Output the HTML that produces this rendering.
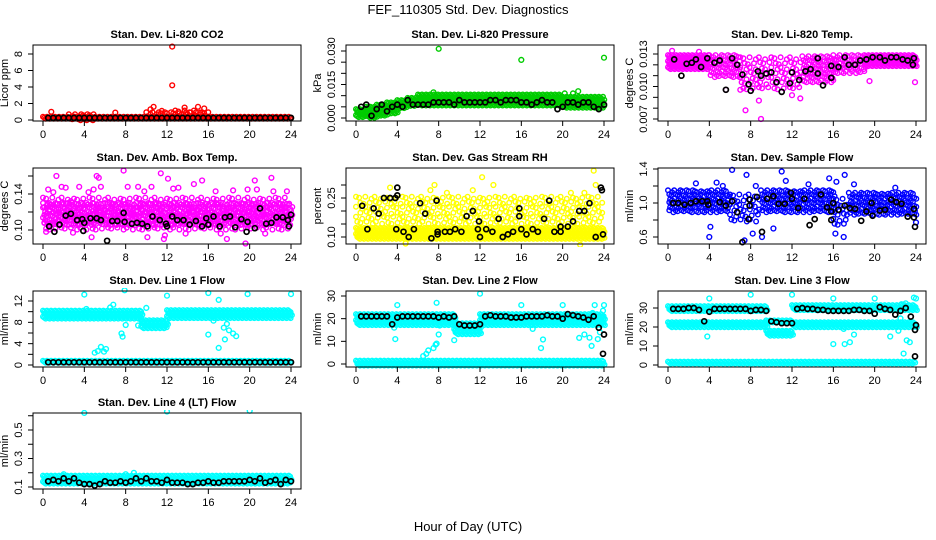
<!DOCTYPE html>
<html><head><meta charset="utf-8"><style>
html,body{margin:0;padding:0;background:#fff;width:936px;height:540px;overflow:hidden}
svg{display:block;font-family:"Liberation Sans",sans-serif}
</style></head><body>
<svg id="chart" width="936" height="540" viewBox="0 0 936 540">
<text x="468" y="14" text-anchor="middle" font-size="13">FEF_110305  Std. Dev. Diagnostics</text>
<text x="468" y="531" text-anchor="middle" font-size="13">Hour of Day (UTC)</text>
</svg>
<script>
const xTicks=[0,4,8,12,16,20,24];
const T48=[0.5,1,1.5,2,2.5,3,3.5,4,4.5,5,5.5,6,6.5,7,7.5,8,8.5,9,9.5,10,10.5,11,11.5,12,12.5,13,13.5,14,14.5,15,15.5,16,16.5,17,17.5,18,18.5,19,19.5,20,20.5,21,21.5,22,22.5,23,23.5,24];

const titles=["Stan. Dev. Li-820 CO2","Stan. Dev. Li-820 Pressure","Stan. Dev. Li-820 Temp.","Stan. Dev. Amb. Box Temp.","Stan. Dev. Gas Stream RH","Stan. Dev. Sample Flow","Stan. Dev. Line 1 Flow","Stan. Dev. Line 2 Flow","Stan. Dev. Line 3 Flow","Stan. Dev. Line 4 (LT) Flow"];
const units=["Licor ppm","kPa","degrees C","degrees C","percent","ml/min","ml/min","ml/min","ml/min","ml/min"];
const colors=["#ff0000","#00cc00","#ff00ff","#ff00ff","#ffff00","#0000ff","#00ffff","#00ffff","#00ffff","#00ffff"];

const yTickVals=[[0,2,4,6,8],[0,0.005,0.01,0.015,0.02,0.025,0.03],[0.007,0.008,0.009,0.010,0.011,0.012,0.013],[0.10,0.12,0.14,0.16],[0.10,0.15,0.20,0.25,0.30],[0.6,0.8,1.0,1.2,1.4],[0,2,4,6,8,10,12],[0,10,20,30],[0,10,20,30],[0.1,0.2,0.3,0.4,0.5,0.6]];
const yTickLabels=[["0","2","4","6","8"],["0.000","","","0.015","","","0.030"],["0.007","","","0.010","","","0.013"],["0.10","","0.14",""],["0.10","","","0.25",""],["0.6","","1.0","","1.4"],["0","","4","","8","","12"],["0","10","20","30"],["0","10","20","30"],["0.1","","0.3","","0.5",""]];
const yRefVals=[[0,8],[0,0.03],[0.007,0.013],[0.10,0.14],[0.10,0.25],[0.6,1.4],[0,12],[0,30],[0,30],[0.1,0.5]];

// bands: [tStart,tEnd,low,high,density(0 dense,1 medium,2 sparse)]
const bands=[
 [[0,24,0.05,0.4,0],[2.5,5,0.05,0.7,1],[10,16,0.05,0.95,1],[12.8,15.8,0.3,1.15,2]],
 [[0,1,0,0.004,0],[1,2,0,0.005,0],[2,3,0.001,0.006,0],[3,4,0.002,0.007,0],[4,5,0.004,0.008,0],[5,6,0.005,0.009,0],[6,20,0.006,0.0105,0],[20,24,0.005,0.0095,0]],
 [[0,4,0.0116,0.0129,0],[4,7,0.0108,0.0129,1],[7,10,0.0095,0.0127,2],[10,13,0.0097,0.0127,2],[13,16,0.0103,0.0128,1],[16,19,0.0112,0.0129,1],[19,24,0.0118,0.0129,0]],
 [[0,24,0.098,0.136,2],[0,24,0.104,0.130,1]],
 [[0,24,0.09,0.135,0],[0,24,0.14,0.255,2]],
 [[0,6,0.9,1.15,1],[6,9,0.75,1.1,2],[9,16,0.88,1.15,1],[16,17.5,0.75,1.05,2],[17.5,24,0.88,1.12,1]],
 [[0,9.5,8.7,10.2,0],[9.5,12,7.2,8.4,0],[12,24,8.7,10.3,0],[0,24,0.3,0.8,0]],
 [[0,9.5,17.5,22,0],[9.5,12,13.5,18,0],[12,24,17.5,22,0],[0,24,0,1.5,0]],
 [[0,9.5,28.5,31,0],[12,24,29,31.5,0],[0,9.5,20.5,22.5,0],[12,24,19.5,22.5,0],[9.5,12,22,23.5,0],[9.5,12,16,18,0],[0,24,0.3,1.8,0]],
 [[0,24,0.12,0.18,0]]
];

const outliers=[
 [[12.5,8.9],[12.5,4.2],[10.7,1.6],[11.5,1.1],[13.7,1.5],[15,1.6],[15.6,1.4],[0.8,1.0],[7,0.9],[10.4,1.3]],
 [[8,0.031],[16,0.026],[24,0.027],[21.5,0.012],[20.2,0.011],[21,0.011],[7.5,0.0115]],
 [[0.4,0.0133],[7.5,0.0078],[9,0.0070],[8.8,0.0087],[19.5,0.0105],[23.9,0.0104],[12.8,0.0089],[12,0.0092],[5.6,0.0097],[7,0.0097],[3,0.0132]],
 [[0.5,0.145],[1,0.142],[1.3,0.16],[1.8,0.148],[2.2,0.147],[2.7,0.132],[3.5,0.148],[4.4,0.142],[4.9,0.145],[5.2,0.16],[5.4,0.158],[5.6,0.148],[7.8,0.166],[8.2,0.148],[9.2,0.148],[9.8,0.143],[10.1,0.092],[10.5,0.148],[11.4,0.163],[11.7,0.090],[11.8,0.094],[12.1,0.157],[12.6,0.146],[13.1,0.147],[13.8,0.096],[14.6,0.151],[15.4,0.155],[16.7,0.143],[17.2,0.096],[17.8,0.090],[18.4,0.144],[19.6,0.085],[19.8,0.145],[20.5,0.155],[20.7,0.145],[21.5,0.096],[22.1,0.158],[22.3,0.143],[23.6,0.143],[2.9,0.097],[0.3,0.098],[4.7,0.092]],
 [[3.3,0.29],[7.2,0.28],[7.6,0.30],[8.8,0.27],[11.3,0.28],[12.2,0.33],[13.3,0.30],[20.8,0.27],[23,0.355],[23.2,0.30],[22.1,0.27],[21.7,0.07],[4.8,0.075]],
 [[6.2,1.39],[7.6,1.33],[11,1.37],[15.6,1.29],[17.1,1.33],[4,0.6],[9.1,0.6],[7.4,0.56],[16.2,0.64],[17,0.6],[4.1,0.72],[8.2,0.64],[10.2,0.7],[2.7,1.23],[4.7,1.24],[5.3,1.2],[8.5,1.2],[11.4,1.26],[16.3,1.25],[18,1.22],[22,1.18],[24,0.77],[13.6,1.22]],
 [[4,13.2],[4.2,10.5],[6.5,10.8],[6.8,11.3],[7.9,14],[8,7.5],[9.2,7.4],[10,10.7],[12,13],[16,13.5],[16,5.7],[16.5,8.3],[17,12.2],[17,3.2],[17.5,7],[17.6,4.8],[17.8,7.7],[18,6.5],[18.4,5.9],[18.7,5.4],[19.8,13.3],[24,13.3],[5,2.3],[5.3,2.6],[5.6,3.4],[5.9,2.5],[7.6,5.9],[7.7,5.3],[6.1,3.0]],
 [[4,26],[3.8,11],[3.7,16],[7.8,27],[8,13],[9.5,10.5],[12,31],[8.1,17],[7.5,7],[7.7,8.5],[7.8,9],[7,6],[6.8,4.5],[6.5,3.5],[6.6,1],[16,26],[17.1,15.5],[18.1,10.8],[17.9,7],[20,26],[22.6,11.6],[22.1,13],[21.6,11.5],[23.1,26],[22.8,8],[24,26],[23.6,14],[23.4,11],[23.9,23.5],[22.9,22.5]],
 [[4,35],[3.8,15],[8,37],[12,37],[16,35],[16,11],[17.1,11],[17.6,12],[18,16],[17,19],[20,35],[21.5,15],[22.3,18],[22.6,32],[22.8,6],[23.1,13],[23.4,12],[23.8,35.5],[24,35],[23,32.5],[22.5,24.5]],
 [[4,0.62],[12,0.63],[20,0.635],[8,0.19],[8.8,0.2],[2,0.19]]
];

const blackCO2=T48.map(()=>0.25);
const blackPressure=[0.005,0.006,0.001,0.004,0.006,0.003,0.005,0.006,0.005,0.008,0.006,0.006,0.006,0.006,0.007,0.007,0.007,0.007,0.006,0.008,0.007,0.007,0.007,0.007,0.007,0.008,0.008,0.007,0.008,0.008,0.008,0.007,0.007,0.006,0.007,0.008,0.007,0.007,0.004,0.005,0.007,0.007,0.006,0.007,0.007,0.005,0.004,0.006];
const blackTemp=[[0.6,0.0125],[1.3,0.0110],[1.8,0.0121],[2.3,0.0122],[2.7,0.0125],[3.2,0.0118],[3.8,0.0126],[4.5,0.0122],[5.0,0.0124],[5.6,0.0097],[6.2,0.0126],[6.7,0.0120],[7.2,0.0111],[7.8,0.0102],[8.0,0.0096],[8.7,0.0114],[9.0,0.0110],[9.5,0.0112],[10.0,0.0113],[10.5,0.0104],[11,0.0095],[11.8,0.0103],[12,0.0113],[12.7,0.0106],[13.3,0.0114],[13.8,0.0116],[14.5,0.0112],[14.5,0.0126],[15,0.0101],[15.8,0.0108],[15.8,0.0119],[16.5,0.0118],[17.1,0.0127],[17.5,0.0120],[18.1,0.0120],[18.6,0.0124],[19.2,0.0125],[19.8,0.0127],[20.5,0.0127],[21,0.0124],[21.6,0.0127],[22.1,0.0127],[22.7,0.0125],[23.2,0.0124],[23.7,0.0120],[23.8,0.0126]];
const blackAmb=[[0.6,0.104],[1.1,0.098],[1.6,0.106],[2.2,0.116],[2.7,0.118],[3.3,0.111],[3.8,0.112],[3.9,0.099],[4,0.108],[4.6,0.113],[5.2,0.113],[5.6,0.111],[6.2,0.088],[6.7,0.110],[7.2,0.110],[7.8,0.119],[7.9,0.109],[8.6,0.107],[9.1,0.108],[9.6,0.107],[10.1,0.104],[10.6,0.115],[11.3,0.111],[11.9,0.107],[12,0.104],[12.5,0.115],[13,0.111],[13.6,0.111],[14.2,0.106],[14.8,0.110],[15.4,0.104],[15.8,0.113],[16,0.106],[16.5,0.115],[17.1,0.104],[17.6,0.114],[18.1,0.115],[18.6,0.103],[19.2,0.112],[19.7,0.098],[19.8,0.109],[20.5,0.102],[21,0.124],[21.6,0.107],[22.1,0.108],[22.6,0.114],[23.2,0.114],[23.7,0.111],[23.8,0.104],[24,0.117]];
const blackRH=[[0.6,0.22],[1.1,0.13],[1.7,0.21],[2.2,0.19],[2.7,0.25],[3.3,0.25],[3.8,0.25],[3.9,0.13],[4,0.26],[4,0.29],[4.6,0.12],[5.1,0.10],[5.6,0.13],[6.2,0.23],[6.7,0.19],[7.3,0.095],[7.8,0.24],[7.9,0.12],[7.9,0.11],[8.6,0.12],[9.1,0.12],[9.6,0.13],[10.2,0.12],[10.7,0.18],[11.3,0.20],[11.8,0.13],[11.9,0.16],[12,0.10],[12.6,0.13],[13.2,0.12],[13.8,0.17],[14.2,0.10],[14.7,0.11],[15.2,0.12],[15.8,0.21],[15.8,0.18],[16,0.13],[16.5,0.11],[17.1,0.13],[17.6,0.12],[18.2,0.17],[18.7,0.24],[19.2,0.12],[19.8,0.14],[19.8,0.12],[20.5,0.14],[21,0.16],[21.6,0.20],[22.1,0.20],[22.6,0.23],[23.2,0.10],[23.7,0.29],[23.8,0.28],[23.9,0.11]];
const blackSample=[[0.5,1.0],[1,1.0],[1.6,0.98],[2.2,1.0],[2.7,1.02],[3.3,1.02],[3.8,1.02],[3.9,0.98],[5.0,1.01],[5.6,0.97],[6.2,1.02],[6.7,0.89],[7.2,0.54],[7.8,0.81],[7.9,1.04],[7.9,0.97],[8.6,1.07],[9.1,0.66],[9.6,1.05],[10.2,1.08],[10.7,0.99],[11.3,0.99],[11.9,1.12],[12,1.05],[12.6,0.94],[13.2,1.05],[13.7,0.74],[14.2,0.81],[14.8,1.1],[15.4,0.95],[15.8,0.8],[15.8,0.9],[16,1.0],[16.5,0.92],[17.1,0.97],[17.6,0.94],[18.1,0.93],[18.7,0.79],[19.2,0.9],[19.7,1.0],[19.8,0.85],[20.5,0.91],[21,0.92],[21.6,1.04],[22.1,1.01],[22.6,0.99],[23.2,0.84],[23.8,0.93],[23.8,0.83],[23.9,0.72]];
const blackLine1=T48.map(()=>0.5);
const blackLine2=[21,21,21,21,21,21,17.5,20.5,21,21,21,21,21,21,21,20.5,21,20.5,21,17.5,17,17,17,17.5,21,21.5,21,21,21,20.5,20.5,20.5,21,21,21,21,21.5,21,21,20,22,21.5,21,20.5,19.5,21,16,13];
const blackLine3=[29.5,29.5,29.5,30,30,29,23,28,29.5,29.5,29.5,29.5,29.5,29.5,29.5,28.5,29,29,28.5,23,22.5,22,22,22,29.5,30,29.5,29.5,29,29,28.5,28.5,28.5,28.5,28.5,29,29,28.5,28.5,27,30.5,29.5,29,26.5,28.5,30,25.5,21];
const blackLine4=[0.14,0.15,0.14,0.16,0.14,0.16,0.13,0.12,0.12,0.11,0.12,0.14,0.13,0.13,0.14,0.13,0.14,0.16,0.14,0.16,0.14,0.14,0.13,0.15,0.13,0.13,0.13,0.12,0.12,0.13,0.13,0.14,0.13,0.13,0.14,0.14,0.14,0.14,0.14,0.15,0.14,0.16,0.13,0.14,0.15,0.12,0.15,0.14];
const blackSets=[T48.map((t,i)=>[t,blackCO2[i]]),T48.map((t,i)=>[t,blackPressure[i]]),blackTemp,blackAmb,blackRH,blackSample,T48.map((t,i)=>[t,blackLine1[i]]),T48.map((t,i)=>[t,blackLine2[i]]),T48.map((t,i)=>[t,blackLine3[i]]),T48.map((t,i)=>[t,blackLine4[i]])];
blackSets[7].push([23.9,4.5]);blackSets[8].push([23.9,18.5],[23.9,4.5]);

const colL=[33,346,658],rowT=[45,168,291,413],BW=268,BH=76;
const yRefPx=[[75,9],[73,6],[74,9],[62,26],[69,30],[69,1],[74,10],[73,5],[74,17],[74,17]];
const NS="http://www.w3.org/2000/svg";
const svg=document.getElementById('chart');
function mk(tag,attrs,parent){const e=document.createElementNS(NS,tag);for(const k in attrs)e.setAttribute(k,attrs[k]);(parent||svg).appendChild(e);return e;}

for(let p=0;p<10;p++){
  const L=colL[p%3],T=rowT[Math.floor(p/3)];
  const g=mk('g',{});
  
  
  const xS=t=>L+10+t*(BW-20)/24;
  const [v1,v2]=yRefVals[p],[p1,p2]=yRefPx[p];
  const yS=v=>T+p1+(v-v1)*(p2-p1)/(v2-v1);
  const clip='c'+p;
  const cp=mk('clipPath',{id:clip},g);mk('rect',{x:L-3,y:T-3,width:BW+6,height:BH+6},cp);
  const pts=mk('g',{'clip-path':'url(#'+clip+')',fill:'none',stroke:colors[p],'stroke-width':1.4},g);
  
  
  bands[p].forEach(b=>{
    const [t0,t1,lo,hi,dens]=b;
    const dx=dens===0?0.13:(dens===1?0.2:0.3);
    const step=dens===0?3:(dens===1?4:5);
    let i=0;
    for(let t=t0;t<=t1;t+=dx,i++){
      const ya=yS(lo),yb=yS(hi);
      let j=0;
      for(let y=Math.min(ya,yb);y<=Math.max(ya,yb);y+=step,j++){
        if(dens===2&&((i*7+j*3)%5)>2)continue;
        if(dens===1&&((i*5+j*3)%7)>4)continue;
        const c=mk('circle',{cx:(xS(t)+(j%2)*1.3).toFixed(1),cy:(y+(i%3)).toFixed(1),r:2.3},pts);
        
        
      }
    }
  });
  outliers[p].forEach(o=>{
    const c=mk('circle',{cx:xS(o[0]).toFixed(1),cy:yS(o[1]).toFixed(1),r:2.4},pts);
    
    
  });
  const bk=mk('g',{'clip-path':'url(#'+clip+')',fill:'none',stroke:'#000','stroke-width':1.7},g);
  
  
  blackSets[p].forEach(o=>{
    const c=mk('circle',{cx:xS(o[0]).toFixed(1),cy:yS(o[1]).toFixed(1),r:2.5},bk);
    
    
  });
  const box=mk('rect',{x:L,y:T,width:BW,height:BH,fill:'none',stroke:'#000','stroke-width':1},g);
  
  
  const ti=mk('text',{x:L+BW/2,y:T-7,'text-anchor':'middle','font-size':11,'font-weight':'bold'},g);
  ti.textContent=titles[p];
  
  
  const xa=mk('g',{stroke:'#000','stroke-width':1},g);
  
  
  mk('line',{x1:xS(0),x2:xS(24),y1:T+BH,y2:T+BH},xa);
  xTicks.forEach(t=>{
    mk('line',{x1:xS(t),x2:xS(t),y1:T+BH,y2:T+BH+5},xa);
    const tx=mk('text',{x:xS(t),y:T+BH+17,'text-anchor':'middle','font-size':11,stroke:'none',fill:'#000'},g);
    tx.textContent=String(t);
    
    
  });
  const ya=mk('g',{stroke:'#000','stroke-width':1},g);
  
  
  const tv=yTickVals[p];
  mk('line',{x1:L,x2:L,y1:yS(tv[0]),y2:yS(tv[tv.length-1])},ya);
  tv.forEach((v,k)=>{
    const y=yS(v);
    mk('line',{x1:L-5,x2:L,y1:y,y2:y},ya);
    const lab=yTickLabels[p][k];
    if(lab){
      const tx=mk('text',{x:L-11,y:y,'text-anchor':'middle','font-size':11,transform:'rotate(-90 '+(L-11)+' '+y+')'},g);
      tx.textContent=lab;
      
      
    }
  });
  const yl=mk('text',{x:L-25,y:T+BH/2,'text-anchor':'middle','font-size':11,transform:'rotate(-90 '+(L-25)+' '+(T+BH/2)+')'},g);
  yl.textContent=units[p];
  
  
}
</script>
</body></html>
